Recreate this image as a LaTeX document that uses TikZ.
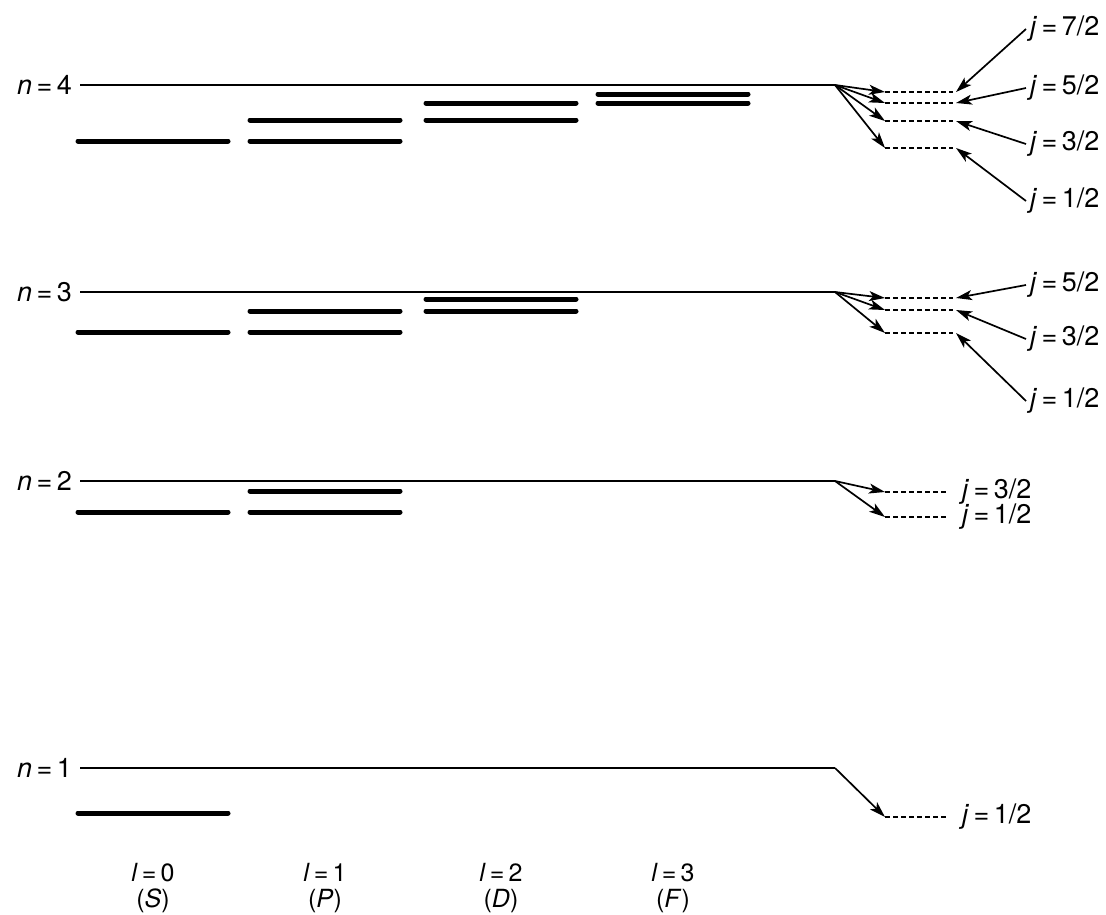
\documentclass[tikz,border=0pt]{standalone}
\usepackage{fontspec}
\setmainfont{TeX Gyre Heros}
\usetikzlibrary{arrows.meta}

\tikzset{
  shell/.style={line width=1.8pt},
  sublevel/.style={line width=5pt, line cap=round},
  finelevel/.style={dash pattern=on 5pt off 3pt, line width=1.4pt},
  splitarrow/.style={line width=1.7pt, -{Stealth[length=16pt,width=10pt,inset=4pt]}},
  tagarrow/.style={line width=1.7pt, -{Stealth[length=16pt,width=10pt,inset=4pt]}},
  tag/.style={font=\fontsize{27}{30}\selectfont, inner sep=0pt, outer sep=4pt}
}

\begin{document}
\begin{tikzpicture}[x=1pt,y=-1pt]
\useasboundingbox (0,0) rectangle (1106,914);

% principal shells
\foreach \n/\y in {4/85,3/292,2/481,1/768}{
  \coordinate (s\n-l) at (80,\y);
  \coordinate (s\n-r) at (835,\y);
  \draw[shell] (s\n-l) -- (s\n-r);
  \node[tag, anchor=east] (n\n) at (76,\y) {\textit{n}\,=\,\n};
}

% sublevels, one column per l
\foreach \x/\y in {78/141,78/332,78/512,78/813,
                   250/120,250/141,250/311,250/332,250/491,250/512,
                   426/103,426/120,426/299,426/311,
                   598/94,598/103}
  \draw[sublevel] (\x,\y) -- ++(150,0);

% column labels
\foreach \l/\s/\x in {0/S/153,1/P/325,2/D/501,3/F/673}{
  \node[tag, anchor=base, font=\fontsize{25}{28}\selectfont]
    (l\l) at (\x,881) {\textit{l}\,=\,\l};
  \node[tag, anchor=base, font=\fontsize{25}{28}\selectfont]
    (sym\l) at (\x,907) {(\textit{\s})};
}

% fine structure levels
\foreach \n/\k/\y/\e in {4/7/92/953,4/5/103/953,4/3/121/953,4/1/148/953,
                         3/5/298/953,3/3/310/953,3/1/333/953,
                         2/3/492/948,2/1/517/948,
                         1/1/817/948}{
  \coordinate (f\n\k-l) at (885,\y);
  \coordinate (f\n\k-r) at (\e,\y);
  \draw[splitarrow] (s\n-r) -- (f\n\k-l);
  \draw[finelevel] (f\n\k-l) -- (f\n\k-r);
}

% j labels with pointers
\foreach \n/\k/\y in {4/7/29,4/5/88,4/3/144,4/1/201,
                      3/5/285,3/3/339,3/1/401}{
  \node[tag, anchor=west] (j\n\k) at (1026,\y) {\textit{j}\,=\,\k/2};
  \draw[tagarrow] (j\n\k.west) -- ([xshift=3pt]f\n\k-r);
}

% j labels without pointers
\foreach \n/\k/\y in {2/3/492,2/1/517,1/1/817}
  \node[tag, anchor=west] (j\n\k) at (958,\y) {\textit{j}\,=\,\k/2};

\end{tikzpicture}
\end{document}
